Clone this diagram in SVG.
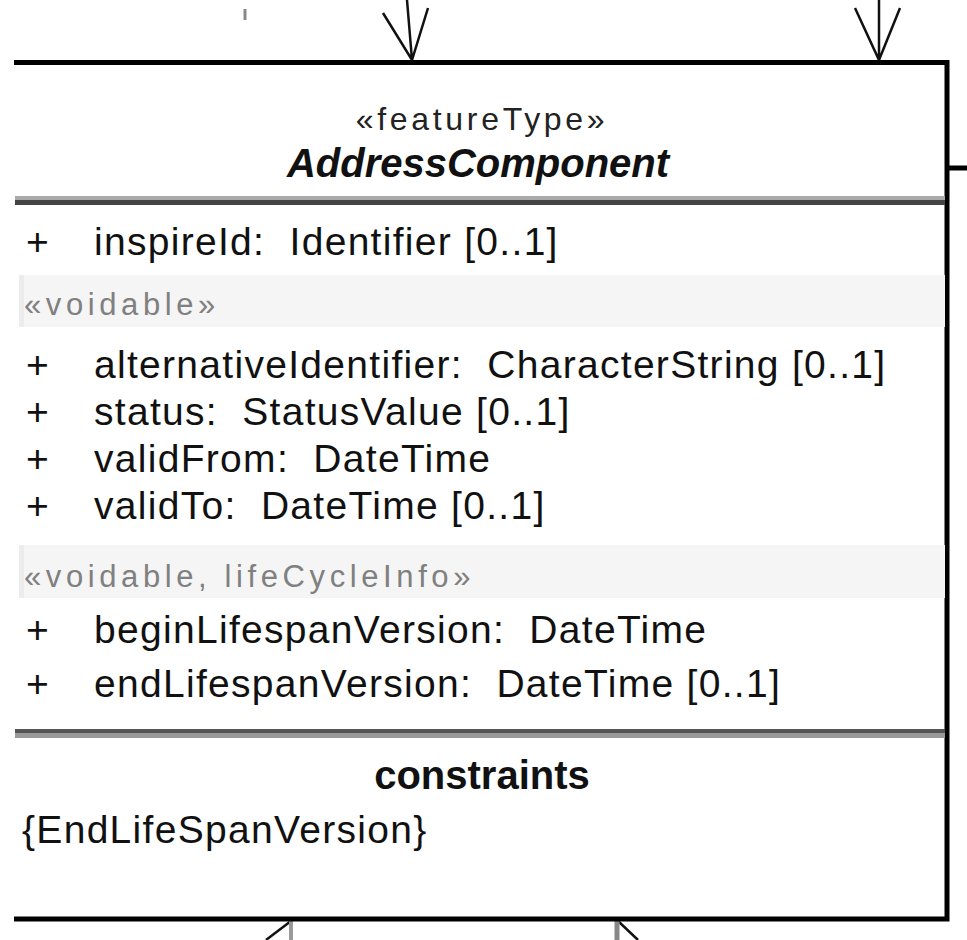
<svg xmlns="http://www.w3.org/2000/svg" width="967" height="940" viewBox="0 0 967 940">
<style>
text{font-family:"Liberation Sans",Arial,sans-serif;fill:#000;white-space:pre}
.attr{font-size:39px;letter-spacing:1.3px;fill:#111}
.st{font-size:32px;letter-spacing:3.7px;fill:#222}
.grp{font-size:31px;letter-spacing:4.6px;fill:#808080}
.name{font-size:40px;font-style:italic;font-weight:bold;fill:#111}
.bold{font-size:40px;font-weight:bold;fill:#111}
.border{stroke:#000;fill:none}
.conn{stroke:#111;fill:none;stroke-width:2.5}
</style>
<rect width="967" height="940" fill="#fff"/>
<g id="connectors">
<path class="conn" d="M407,0 L412,60 M383,13 L412,60 L428,8"/>
<path class="conn" d="M879,0 L879,60 M855,8 L879,60 L900,8"/>
<line x1="245" y1="9" x2="245" y2="20" stroke="#888" stroke-width="3"/>
<line x1="949" y1="168" x2="967" y2="168" stroke="#000" stroke-width="5"/>
<path class="conn" d="M291,921 L266,940"/>
<line x1="291" y1="921" x2="291" y2="940" stroke="#999" stroke-width="4"/>
<path class="conn" d="M618,921 L638,940"/>
<line x1="617" y1="921" x2="617" y2="940" stroke="#888" stroke-width="5"/>
</g>
<g id="AddressComponent">
<rect x="14" y="62.5" width="933" height="856.5" fill="#fff"/>
<path class="border" stroke-width="5" d="M14,62.5 H947 V919 H14"/>
<text class="st" x="482" y="130" text-anchor="middle">«featureType»</text>
<text class="name" x="478" y="177" text-anchor="middle">AddressComponent</text>
<rect x="15" y="196" width="930" height="4" fill="#aaa"/>
<rect x="15" y="200" width="930" height="5" fill="#444"/>
<text class="attr" x="26" y="255">+</text>
<text class="attr" x="94" y="255">inspireId:  Identifier [0..1]</text>
<rect x="19" y="275" width="926" height="52" fill="#f5f5f5"/>
<rect x="19" y="275" width="5" height="52" fill="#ececec"/>
<text class="grp" x="24" y="315">«voidable»</text>
<text class="attr" x="26" y="378">+</text>
<text class="attr" x="94" y="378">alternativeIdentifier:  CharacterString [0..1]</text>
<text class="attr" x="26" y="425">+</text>
<text class="attr" x="94" y="425">status:  StatusValue [0..1]</text>
<text class="attr" x="26" y="472">+</text>
<text class="attr" x="94" y="472">validFrom:  DateTime</text>
<text class="attr" x="26" y="519">+</text>
<text class="attr" x="94" y="519">validTo:  DateTime [0..1]</text>
<rect x="19" y="545" width="926" height="53" fill="#f5f5f5"/>
<rect x="19" y="545" width="5" height="53" fill="#ececec"/>
<text class="grp" x="24" y="587">«voidable, lifeCycleInfo»</text>
<text class="attr" x="26" y="643">+</text>
<text class="attr" x="94" y="643">beginLifespanVersion:  DateTime</text>
<text class="attr" x="26" y="697">+</text>
<text class="attr" x="94" y="697">endLifespanVersion:  DateTime [0..1]</text>
<rect x="15" y="729" width="930" height="4" fill="#555"/>
<rect x="15" y="733" width="930" height="5" fill="#999"/>
<text class="bold" x="482" y="789" text-anchor="middle">constraints</text>
<text class="attr" x="22" y="843">{EndLifeSpanVersion}</text>
</g>
</svg>
